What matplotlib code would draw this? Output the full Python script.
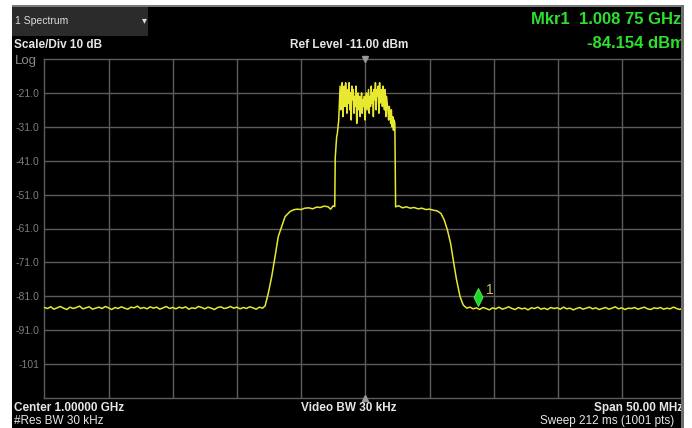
import numpy as np
import matplotlib
matplotlib.use("Agg")
import matplotlib.pyplot as plt
from matplotlib.patches import Rectangle
from matplotlib.path import Path
import matplotlib.transforms as mtransforms

plt.rcParams['font.family'] = ['Liberation Sans', 'DejaVu Sans']

# ---------------- data (MHz, dBm) ----------------
f_start, f_stop = 975.0, 1025.0
ref_level, scale_div = -11.0, 10.0

floor_left_db = [-84.3, -84.6, -84.1, -84.8, -84.4, -84.0, -84.5, -84.9, -84.2, -84.6,
                 -84.3, -83.9, -84.7, -84.4, -84.1, -84.8, -84.5, -84.2, -84.6, -84.0,
                 -84.4, -84.9, -84.3, -84.6, -84.1, -84.5, -84.8, -84.2, -84.4, -83.9,
                 -84.6, -84.3, -84.7, -84.1, -84.5, -84.2, -84.8, -84.4, -84.0, -84.6,
                 -84.3, -84.7, -84.2, -84.5, -84.1, -84.8, -84.4, -84.6, -84.0, -84.3,
                 -84.7, -84.2, -84.5, -84.9, -84.3, -84.1, -84.6, -84.4, -84.0, -84.5,
                 -84.2, -84.7, -84.3, -84.6, -84.1, -84.4, -84.8, -84.2, -84.5]
floor_left_span = (975.0, 992.0)

shoulder_left_f = [992.2, 992.45, 992.71, 992.97, 993.22, 993.61, 993.75, 994.14, 994.4,
                   994.66, 995.0, 995.3, 995.6, 995.9, 996.2, 996.5, 996.8, 997.1, 997.3,
                   997.5, 997.62]
shoulder_left_db = [-83.8, -80.0, -75.2, -69.3, -63.4, -59.0, -57.5, -56.0, -55.5,
                    -55.3, -55.4, -55.0, -54.9, -55.2, -54.7, -54.8, -54.4, -54.6, -55.3,
                    -54.3, -54.5]

main_db = [-40, -37, -34, -33, -31, -29,
           -24, -19, -26, -21, -18, -28, -22, -19, -25, -18, -23, -27, -20, -24,
           -18, -26, -21, -29, -19, -23, -20, -27, -22, -25, -19, -30, -23, -21,
           -26, -22, -28, -24, -21, -27, -23, -25, -22, -29, -24, -21, -26, -23,
           -20, -27, -22, -25, -19, -24, -21, -28, -20, -23, -18, -26, -20, -22,
           -19, -27, -18, -24, -21, -20, -25, -19, -23, -26, -20, -28, -22, -24,
           -26, -29, -25, -27, -30, -26, -31, -28, -32, -29, -30]
main_span = (997.66, 1002.3)

shoulder_right_f = [1002.36, 1002.6, 1002.9, 1003.2, 1003.5, 1003.8, 1004.1, 1004.4,
                    1004.7, 1005.0, 1005.3, 1005.6, 1005.9, 1006.15, 1006.4, 1006.65,
                    1006.85, 1007.1, 1007.38, 1007.63]
shoulder_right_db = [-54.6, -54.3, -54.9, -54.6, -55.0, -54.8, -55.2, -55.0,
                     -55.4, -55.3, -55.6, -55.8, -56.6, -58.5, -61.5, -65.5,
                     -70.3, -76.0, -81.1, -83.6]

floor_right_db = [-84.5, -84.2, -84.7, -84.4, -84.9, -84.3, -84.6, -85.0, -84.4, -84.7,
                  -84.2, -84.8, -84.5, -84.1, -84.6, -84.9, -84.3, -84.7, -84.5, -85.0,
                  -84.4, -84.6, -84.2, -84.8, -84.5, -84.9, -84.3, -84.6, -84.4, -84.8,
                  -84.2, -84.7, -84.5, -85.0, -84.6, -84.3, -84.8, -84.5, -84.2, -84.7,
                  -84.4, -84.9, -84.6, -84.3, -84.8, -84.5, -84.1, -84.7, -84.4, -84.9,
                  -84.5, -84.6, -84.3, -84.8, -84.5, -84.2, -84.7, -84.9, -84.4, -84.6,
                  -84.3, -84.8, -84.5, -84.7, -84.2, -84.6, -84.9, -84.4, -84.6]
floor_right_span = (1007.9, 1025.0)

mkr_freq = 1008.75
mkr_level = -84.154

ytick_vals = [-21, -31, -41, -51, -61, -71, -81, -91, -101]
ytick_labels = ["-21.0", "-31.0", "-41.0", "-51.0", "-61.0", "-71.0", "-81.0", "-91.0", "-101"]

# ---------------- assemble trace ----------------
freq = np.concatenate([
    np.linspace(*floor_left_span, len(floor_left_db)),
    np.array(shoulder_left_f),
    np.linspace(*main_span, len(main_db)),
    np.array(shoulder_right_f),
    np.linspace(*floor_right_span, len(floor_right_db)),
])
level = np.concatenate([floor_left_db, shoulder_left_db, main_db,
                        shoulder_right_db, floor_right_db]).astype(float)

# ---------------- figure ----------------
W, H = 692, 428
fig = plt.figure(figsize=(W / 100, H / 100), dpi=100, facecolor='white')


def fx(x):
    return x / W


def fy(y):
    return 1 - y / H


# black instrument screen
fig.add_artist(Rectangle((fx(12), 0), fx(683) - fx(12), fy(5), transform=fig.transFigure,
                         facecolor='black', edgecolor='none', zorder=-5))
# top gray edge
fig.add_artist(Rectangle((fx(12), fy(7)), fx(683) - fx(12), fy(5) - fy(7), transform=fig.transFigure,
                         facecolor='#7a7a7a', edgecolor='none', zorder=-4))
# "1 Spectrum" tab
fig.add_artist(Rectangle((fx(12), fy(36)), fx(148) - fx(12), fy(7) - fy(36), transform=fig.transFigure,
                         facecolor='#2b2b2b', edgecolor='none', zorder=-4))

left, right, top, bottom = 44.3, 686.3, 59.0, 398.0
ax = fig.add_axes([fx(left), fy(bottom), fx(right) - fx(left), fy(top) - fy(bottom)])
ax.set_facecolor('black')
ax.set_xlim(f_start, f_stop)
ax.set_ylim(ref_level - 10 * scale_div, ref_level)
ax.set_xticks(np.arange(f_start + 5, f_stop, 5))
ax.set_yticks(ytick_vals)
ax.set_yticklabels(ytick_labels)
ax.tick_params(axis='both', length=0, colors='#7d7d7d', labelsize=7.5)
ax.tick_params(axis='y', pad=3.5)
ax.tick_params(axis='x', labelbottom=False)
ax.grid(True, color='#5c5c5c', linewidth=1.0)
for s in ax.spines.values():
    s.set_color('#5c5c5c')
    s.set_linewidth(1.0)

ax.plot(freq, level, color='#e8e830', linewidth=1.1, zorder=3)

# center markers on top/bottom edges
center = (f_start + f_stop) / 2
ax.plot([center], [ref_level], marker='v', markersize=4.5, color='#9a9a9a', clip_on=False, zorder=4)
ax.plot([center], [ref_level - 10 * scale_div], marker='^', markersize=4.5, color='#9a9a9a',
        clip_on=False, zorder=4)

# marker 1 diamond above trace
diamond = Path([(0, 1), (0.5, 0), (0, -1), (-0.5, 0), (0, 1)],
               [Path.MOVETO, Path.LINETO, Path.LINETO, Path.LINETO, Path.CLOSEPOLY])
trans_up = mtransforms.offset_copy(ax.transData, fig=fig, x=0, y=9.5, units='dots')
ax.plot([mkr_freq], [mkr_level], marker=diamond, markersize=13, color='#1ed62a',
        markeredgecolor='#52f25a', markeredgewidth=0.6, transform=trans_up, zorder=5)
trans_lbl = mtransforms.offset_copy(ax.transData, fig=fig, x=8, y=17, units='dots')
ax.text(mkr_freq, mkr_level, "1", color='#d2c25a', fontsize=10, transform=trans_lbl,
        ha='left', va='center', zorder=5)

# ---------------- texts ----------------
wht = '#e6e6e6'
grn = '#2ee02e'
fig.text(fx(15), fy(21), "1 Spectrum", color='#dcdcdc', fontsize=7.5, va='center', ha='left')
fig.text(fx(144), fy(20), "\u25BE", color='#dcdcdc', fontsize=7, va='center', ha='center',
         family=['DejaVu Sans'])
fig.text(fx(14), fy(45.5), "Scale/Div 10 dB", color=wht, fontsize=8.5, fontweight='bold',
         va='center', ha='left')
fig.text(fx(349), fy(45.5), "Ref Level -11.00 dBm", color=wht, fontsize=8.5, fontweight='bold',
         va='center', ha='center')
fig.text(fx(15), fy(61), "Log", color='#8a8a8a', fontsize=9.5, va='center', ha='left')
fig.text(fx(531), fy(20), "Mkr1  1.008 75 GHz", color=grn, fontsize=12, fontweight='bold',
         va='center', ha='left')
fig.text(fx(587), fy(44), "-84.154 dBm", color=grn, fontsize=12, fontweight='bold',
         va='center', ha='left')

fig.text(fx(14), fy(408), "Center 1.00000 GHz", color=wht, fontsize=8.5, fontweight='bold',
         va='center', ha='left')
fig.text(fx(349), fy(408), "Video BW 30 kHz", color=wht, fontsize=8.5, fontweight='bold',
         va='center', ha='center')
fig.text(fx(594), fy(408), "Span 50.00 MHz", color=wht, fontsize=8.5, fontweight='bold',
         va='center', ha='left')
fig.text(fx(14), fy(421), "#Res BW 30 kHz", color=wht, fontsize=8.5, va='center', ha='left')
fig.text(fx(540), fy(421), "Sweep 212 ms (1001 pts)", color=wht, fontsize=8.5, va='center',
         ha='left')

# right-hand window edge (screen is cropped)
fig.add_artist(Rectangle((fx(681), 0), fx(683.5) - fx(681), fy(5), transform=fig.transFigure,
                         facecolor='#6e6e6e', edgecolor='none', zorder=20))
fig.add_artist(Rectangle((fx(683.5), 0), 1 - fx(683.5), 1, transform=fig.transFigure,
                         facecolor='white', edgecolor='none', zorder=20))

fig.savefig("out.png", dpi=100, facecolor='white')
